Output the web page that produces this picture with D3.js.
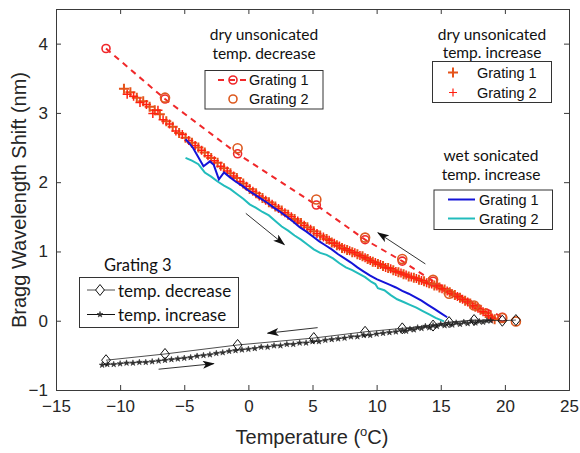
<!DOCTYPE html>
<html><head><meta charset="utf-8">
<script src="https://cdn.jsdelivr.net/npm/d3@7"></script>
<style>
body{margin:0;background:#fff;} svg{display:block;}
.num{font-family:"Liberation Sans", Arial, Helvetica, sans-serif;}
.ttl{font-family:Lato, "Open Sans", sans-serif;}
</style>
</head><body><svg id="c" width="580" height="453"></svg>
<script>
// ---------- DATA ----------
const xTicks = [-15, -10, -5, 0, 5, 10, 15, 20, 25];
const yTicks = [-1, 0, 1, 2, 3, 4];

// dry unsonicated, temp. decrease  [temperature, shift]
const dryDecG1 = [[-11.1,3.93],[-6.5,3.20],[-0.84,2.41],[5.3,1.67],[9.1,1.17],[12.0,0.86],[14.4,0.57],[19.8,0.05]];
const dryDecG2 = [[-6.5,3.22],[-0.84,2.49],[5.3,1.75],[9.1,1.20],[12.0,0.89],[14.4,0.59],[15.65,0.39],[17.6,0.22],[19.8,0.04],[20.86,-0.01]];

// dry unsonicated, temp. increase
const dryIncG1 = [[-9.7,3.35],[-9.2,3.30],[-8.7,3.22],[-8.2,3.17],[-7.7,3.09],[-7.3,3.04],[-6.9,2.98],[-6.4,2.88],[-5.9,2.80],[-5.4,2.71],[-4.9,2.64],[-4.4,2.57],[-3.9,2.50],[-3.4,2.43],[-2.9,2.35],[-2.4,2.28],[-1.9,2.20],[-1.4,2.13],[-0.9,2.06],[-0.4,1.98],[0.1,1.90],[0.6,1.84],[1.1,1.77],[1.6,1.71],[2.1,1.65],[2.6,1.59],[3.1,1.53],[3.6,1.47],[4.1,1.41],[4.6,1.35],[5.1,1.29],[5.6,1.23],[6.1,1.18],[6.5,1.13],[6.9,1.09],[7.3,1.05],[7.7,1.02],[8.1,0.99],[8.5,0.96],[8.9,0.93],[9.3,0.89],[9.7,0.85],[10.1,0.82],[10.5,0.79],[10.9,0.76],[11.3,0.73],[11.7,0.70],[12.1,0.67],[12.5,0.64],[12.9,0.62],[13.3,0.59],[13.7,0.57],[14.1,0.54],[14.5,0.51],[14.9,0.48],[15.3,0.45],[15.7,0.41],[16.1,0.37],[16.5,0.33],[16.9,0.29],[17.3,0.25],[17.7,0.20],[18.1,0.16],[18.5,0.11],[18.9,0.06],[19.2,0.02]];
const dryIncG2 = [[-9.45,3.27],[-8.95,3.24],[-8.45,3.15],[-7.95,3.12],[-7.45,2.99],[-7.05,3.04],[-6.65,2.90],[-6.15,2.84],[-5.65,2.74],[-5.15,2.69],[-4.65,2.60],[-4.15,2.53],[-3.65,2.46],[-3.15,2.38],[-2.65,2.31],[-2.15,2.23],[-1.65,2.16],[-1.15,2.09],[-0.65,2.01],[-0.15,1.94],[0.35,1.87],[0.85,1.80],[1.35,1.74],[1.85,1.68],[2.35,1.62],[2.85,1.56],[3.35,1.50],[3.85,1.44],[4.35,1.38],[4.85,1.32],[5.35,1.26],[5.85,1.21],[6.3,1.16],[6.7,1.12],[7.1,1.08],[7.5,1.04],[7.9,1.01],[8.3,0.98],[8.7,0.94],[9.1,0.91],[9.5,0.87],[9.9,0.84],[10.3,0.81],[10.7,0.77],[11.1,0.75],[11.5,0.71],[11.9,0.69],[12.3,0.66],[12.7,0.63],[13.1,0.61],[13.5,0.58],[13.9,0.55],[14.3,0.53],[14.7,0.50],[15.1,0.46],[15.5,0.43],[15.9,0.39],[16.3,0.35],[16.7,0.31],[17.1,0.27],[17.5,0.22],[17.9,0.18],[18.3,0.13],[18.7,0.08],[19.0,0.04]];

// wet sonicated, temp. increase
const wetIncG1 = [[-4.9,2.62],[-4.6,2.56],[-4.3,2.49],[-3.9,2.36],[-3.5,2.23],[-3.0,2.30],[-2.7,2.25],[-2.3,2.04],[-1.9,2.14],[-1.5,2.08],[-1.0,2.01],[-0.5,1.95],[0.0,1.88],[0.5,1.82],[1.0,1.76],[1.5,1.70],[2.0,1.63],[2.5,1.57],[3.0,1.50],[3.5,1.43],[4.0,1.35],[4.5,1.29],[5.0,1.22],[5.5,1.15],[6.0,1.09],[6.5,1.03],[7.0,0.96],[7.5,0.90],[8.0,0.84],[8.5,0.77],[9.0,0.71],[9.5,0.65],[10.0,0.60],[10.5,0.56],[11.0,0.52],[11.5,0.48],[12.0,0.43],[12.5,0.39],[13.0,0.34],[13.5,0.29],[14.0,0.23],[14.5,0.17],[15.0,0.11],[15.5,0.05]];
const wetIncG2 = [[-4.9,2.35],[-4.4,2.31],[-3.9,2.26],[-3.4,2.14],[-2.9,2.08],[-2.4,2.01],[-1.9,1.95],[-1.4,1.90],[-0.9,1.83],[-0.4,1.76],[0.1,1.68],[0.6,1.63],[1.1,1.57],[1.6,1.52],[2.1,1.44],[2.6,1.36],[3.1,1.30],[3.6,1.23],[4.1,1.17],[4.6,1.10],[5.1,1.03],[5.6,0.98],[6.1,0.95],[6.6,0.90],[7.1,0.83],[7.6,0.77],[8.1,0.73],[8.6,0.68],[9.1,0.63],[9.6,0.56],[9.9,0.53],[10.1,0.47],[10.6,0.44],[11.1,0.37],[11.6,0.31],[12.1,0.27],[12.6,0.23],[13.1,0.19],[13.6,0.14],[14.1,0.09],[14.6,0.04],[15.25,-0.01]];

// Grating 3
const g3Dec = [[-11.1,-0.57],[-6.5,-0.48],[-0.84,-0.35],[5.1,-0.25],[9.1,-0.16],[12.0,-0.11],[14.4,-0.07],[15.65,-0.02],[17.6,0.01],[19.8,0.0],[20.86,0.01]];
const g3Inc = [[-11.4,-0.64],[-11.0,-0.63],[-10.5,-0.63],[-10.0,-0.62],[-9.5,-0.61],[-9.0,-0.61],[-8.5,-0.60],[-8.0,-0.60],[-7.5,-0.59],[-7.0,-0.58],[-6.5,-0.57],[-6.0,-0.56],[-5.5,-0.55],[-5.0,-0.54],[-4.5,-0.53],[-4.0,-0.51],[-3.5,-0.50],[-3.0,-0.49],[-2.5,-0.47],[-2.0,-0.46],[-1.5,-0.44],[-1.0,-0.43],[-0.5,-0.42],[0.0,-0.41],[0.5,-0.40],[1.0,-0.38],[1.5,-0.38],[2.0,-0.36],[2.5,-0.36],[3.0,-0.34],[3.5,-0.34],[4.0,-0.32],[4.5,-0.32],[5.0,-0.30],[5.5,-0.30],[6.0,-0.28],[6.5,-0.27],[7.0,-0.26],[7.5,-0.25],[8.0,-0.23],[8.5,-0.23],[9.0,-0.21],[9.5,-0.21],[10.0,-0.19],[10.5,-0.18],[11.0,-0.17],[11.5,-0.16],[12.0,-0.14],[12.3,-0.15],[12.6,-0.12],[12.9,-0.13],[13.2,-0.10],[13.5,-0.11],[13.8,-0.08],[14.1,-0.10],[14.4,-0.07],[14.7,-0.08],[15.0,-0.05],[15.3,-0.07],[15.6,-0.04],[15.9,-0.06],[16.2,-0.03],[16.5,-0.05],[16.8,-0.02],[17.1,-0.04],[17.4,-0.01],[17.7,-0.03],[18.0,-0.01],[18.3,-0.02],[18.6,0.0],[18.9,0.0]];

// annotation arrows [x1, y1, x2, y2] in data units
const arrows = [[-0.2,1.55,2.8,1.10],[13.8,0.82,10.1,1.27],[5.4,-0.10,1.5,-0.18],[-7.0,-0.70,-2.7,-0.62]];

// ---------- CHART ----------
const svg = d3.select("#c");
const x = d3.scaleLinear().domain([-15, 25]).range([56, 569]);
const y = d3.scaleLinear().domain([-1, 4.5]).range([390, 9]);
const axCol = "#3a3a3a", txtCol = "#262626";

const defs = svg.append("defs");
defs.append("clipPath").attr("id","plot").append("rect")
  .attr("x",56).attr("y",9).attr("width",513).attr("height",381);
defs.append("marker").attr("id","ah").attr("viewBox","0 0 12 8")
  .attr("refX",11).attr("refY",4).attr("markerWidth",12).attr("markerHeight",8)
  .attr("markerUnits","userSpaceOnUse").attr("orient","auto")
  .append("path").attr("d","M0,0 L12,4 L0,8 L3,4 Z").attr("fill","#111");

// axes box + ticks
const gx = svg.append("g").attr("transform","translate(0,390)")
  .call(d3.axisBottom(x).tickValues(xTicks).tickSize(-5).tickPadding(10).tickFormat(d3.format("d")));
const gxt = svg.append("g").attr("transform","translate(0,9)")
  .call(d3.axisTop(x).tickValues(xTicks).tickSize(-5).tickFormat(""));
const gy = svg.append("g").attr("transform","translate(56,0)")
  .call(d3.axisLeft(y).tickValues(yTicks).tickSize(-5).tickPadding(8).tickFormat(d3.format("d")));
const gyr = svg.append("g").attr("transform","translate(569,0)")
  .call(d3.axisRight(y).tickValues(yTicks).tickSize(-5).tickFormat(""));
[gx,gxt,gy,gyr].forEach(g=>{
  g.attr("font-family",null).attr("font-size",null);
  g.selectAll("path.domain").attr("stroke",axCol).attr("stroke-width",1);
  g.selectAll(".tick line").attr("stroke",axCol);
  g.selectAll(".tick text").attr("class","num").attr("font-size",17).attr("fill",txtCol);
});
gx.selectAll(".tick text").attr("dy","0.71em");

// axis titles
const xl = svg.append("text").attr("class","num").attr("x",312).attr("y",444).attr("text-anchor","middle")
  .attr("font-size",20).attr("fill",txtCol);
xl.append("tspan").text("Temperature (");
xl.append("tspan").attr("font-size",13).attr("dy",-8).text("o");
xl.append("tspan").attr("dy",8).text("C)");
svg.append("text").attr("class","num").attr("transform","translate(26,200) rotate(-90)").attr("text-anchor","middle")
  .attr("font-size",20).attr("fill",txtCol)
  .text("Bragg Wavelength Shift (nm)");

const plot = svg.append("g").attr("clip-path","url(#plot)");
const line = d3.line().x(d=>x(d[0])).y(d=>y(d[1]));
const plus = (s)=>`M${-s},0H${s}M0,${-s}V${s}`;
const diamond = (s)=>`M0,${-s}L${s*0.8},0L0,${s}L${-s*0.8},0Z`;
const star = d3.symbol().type(d3.symbolStar).size(11);

// red dashed grating 1 (decrease)
plot.append("path").datum(dryDecG1).attr("d",line).attr("fill","none")
  .attr("stroke","#f0282a").attr("stroke-width",2).attr("stroke-dasharray","6,5");

// crosses (increase)
plot.append("g").selectAll("path").data(dryIncG1).join("path")
  .attr("transform",d=>`translate(${x(d[0])},${y(d[1])})`).attr("d",plus(5))
  .attr("stroke","#e5531a").attr("stroke-width",2).attr("fill","none");
plot.append("g").selectAll("path").data(dryIncG2).join("path")
  .attr("transform",d=>`translate(${x(d[0])},${y(d[1])})`).attr("d",plus(4.5))
  .attr("stroke","#ff2010").attr("stroke-width",1.5).attr("fill","none");

// wet sonicated lines
plot.append("path").datum(wetIncG2).attr("d",line).attr("fill","none")
  .attr("stroke","#22bcbc").attr("stroke-width",2);
plot.append("path").datum(wetIncG1).attr("d",line).attr("fill","none")
  .attr("stroke","#1414d8").attr("stroke-width",2);

// circles
plot.append("g").selectAll("circle").data(dryDecG1).join("circle")
  .attr("cx",d=>x(d[0])).attr("cy",d=>y(d[1])).attr("r",4)
  .attr("fill","none").attr("stroke","#f0282a").attr("stroke-width",1.6);
plot.append("g").selectAll("circle").data(dryDecG2).join("circle")
  .attr("cx",d=>x(d[0])).attr("cy",d=>y(d[1])).attr("r",4.5)
  .attr("fill","none").attr("stroke","#dd5a20").attr("stroke-width",1.6);

// grating 3
plot.append("path").datum(g3Inc).attr("d",line).attr("fill","none")
  .attr("stroke","#222").attr("stroke-width",0.8);
plot.append("g").selectAll("path").data(g3Inc).join("path")
  .attr("transform",d=>`translate(${x(d[0])},${y(d[1])})`).attr("d",star)
  .attr("fill","#333").attr("stroke","#222").attr("stroke-width",0.5);
plot.append("path").datum(g3Dec).attr("d",line).attr("fill","none")
  .attr("stroke","#222").attr("stroke-width",0.8);
plot.append("g").selectAll("path").data(g3Dec).join("path")
  .attr("transform",d=>`translate(${x(d[0])},${y(d[1])})`).attr("d",diamond(5.5))
  .attr("fill","none").attr("stroke","#111").attr("stroke-width",1);

// arrows
svg.append("g").selectAll("line").data(arrows).join("line")
  .attr("x1",d=>x(d[0])).attr("y1",d=>y(d[1])).attr("x2",d=>x(d[2])).attr("y2",d=>y(d[3]))
  .attr("stroke","#333").attr("stroke-width",1).attr("marker-end","url(#ah)");

// ---------- LEGENDS ----------
function title(lines, cx, y0){
  lines.forEach((t,i)=>svg.append("text").attr("class","ttl").attr("x",cx).attr("y",y0+i*18.5)
    .attr("text-anchor","middle").attr("dominant-baseline","central")
    .attr("font-size",15.5).attr("fill","#111").text(t));
}
function box(x0,y0,x1,y1){
  svg.append("rect").attr("x",x0).attr("y",y0).attr("width",x1-x0).attr("height",y1-y0)
    .attr("fill","#fff").attr("stroke","#333").attr("stroke-width",1);
}
function label(t,x0,y0,cls,size){
  svg.append("text").attr("class",cls).attr("x",x0).attr("y",y0).attr("dominant-baseline","central")
    .attr("font-size",size).attr("fill","#111").text(t);
}

// A: dry unsonicated temp. decrease
title(["dry unsonicated","temp. decrease"],264,34);
box(205,70.5,323,109);
svg.append("line").attr("x1",218).attr("x2",247).attr("y1",80).attr("y2",80)
  .attr("stroke","#f0282a").attr("stroke-width",2).attr("stroke-dasharray","6,5");
svg.append("circle").attr("cx",233).attr("cy",80).attr("r",4).attr("fill","none").attr("stroke","#f0282a").attr("stroke-width",1.6);
svg.append("circle").attr("cx",233).attr("cy",99).attr("r",4).attr("fill","none").attr("stroke","#dd5a20").attr("stroke-width",1.6);
label("Grating 1",249,80,"num",14.5);
label("Grating 2",249,99,"num",14.5);

// B: dry unsonicated temp. increase
title(["dry unsonicated","temp. increase"],492,33.5);
box(432.5,61.5,551.5,102.5);
svg.append("path").attr("transform","translate(453,72.5)").attr("d",plus(5)).attr("stroke","#e5531a").attr("stroke-width",2);
svg.append("path").attr("transform","translate(453,92.5)").attr("d",plus(4)).attr("stroke","#ff2010").attr("stroke-width",1.2);
label("Grating 1",477,73,"num",14.5);
label("Grating 2",477,93,"num",14.5);

// C: wet sonicated temp. increase
title(["wet sonicated","temp. increase"],491,155);
box(434,190,552.5,229.5);
svg.append("line").attr("x1",448).attr("x2",475).attr("y1",199.5).attr("y2",199.5).attr("stroke","#1414d8").attr("stroke-width",2);
svg.append("line").attr("x1",448).attr("x2",475).attr("y1",218.5).attr("y2",218.5).attr("stroke","#22bcbc").attr("stroke-width",2);
label("Grating 1",479,199.5,"num",14.5);
label("Grating 2",479,218.5,"num",14.5);

// D: Grating 3
label("Grating 3",104,265,"ttl",16.5);
box(79.5,277.5,238.5,327.5);
svg.append("line").attr("x1",87).attr("x2",115).attr("y1",290).attr("y2",290).attr("stroke","#222").attr("stroke-width",0.8);
svg.append("path").attr("transform","translate(100,290)").attr("d",diamond(5.5)).attr("fill","#fff").attr("stroke","#111");
svg.append("line").attr("x1",87).attr("x2",115).attr("y1",314.5).attr("y2",314.5).attr("stroke","#111").attr("stroke-width",1);
svg.append("path").attr("transform","translate(100,314.5)").attr("d",star).attr("fill","#333").attr("stroke","#222").attr("stroke-width",0.5);
label("temp. decrease",118,290,"ttl",17);
label("temp. increase",118,314.5,"ttl",17);
</script></body></html>
